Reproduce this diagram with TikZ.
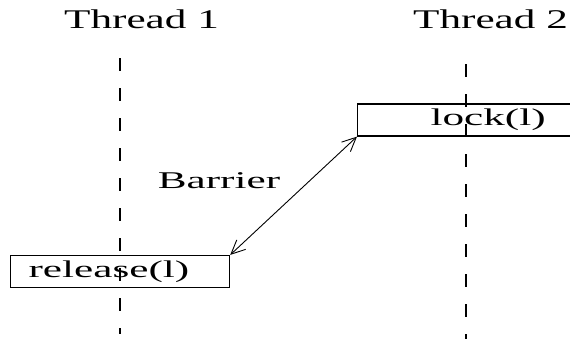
\documentclass[tikz,border=0pt]{standalone}
\usepackage{fontspec}
\usepackage{graphicx}
\setmainfont{Liberation Serif}
\usetikzlibrary{arrows.meta}

% text drawn wider than the font, as in the old figure
\newcommand{\wide}[2]{\scalebox{#1}[1]{#2}}

\tikzset{
  lifeline/.style={draw=black,line width=1.4pt,dash pattern=on 13pt off 17pt},
  opbox/.style={draw=black,line width=1.2pt,minimum height=32pt,inner ysep=0pt,
    align=left,anchor=west,font=\fontsize{24}{28}\selectfont},
  title/.style={anchor=base,font=\fontsize{27}{32}\selectfont},
  label/.style={anchor=base,font=\fontsize{24}{28}\selectfont},
  barb/.tip={Straight Barb[length=14pt,width=13pt,line width=0.9pt]}
}

\begin{document}
\begin{tikzpicture}[x=1pt,y=-1pt]
        \useasboundingbox (0,0) rectangle (570,341);
        % the two threads
        \node[title] (th1) at (141.5,28) {\wide{1.6}{Thread 1}};
        \node[title] (th2) at (490.5,28) {\wide{1.6}{Thread 2}};
        \begin{scope}
          \coordinate (l1top) at (120,58);
          \coordinate (l1bot) at (120,334);
          \coordinate (l2top) at (466,64);
          \coordinate (l2bot) at (466,339);
          \path[lifeline] (l1top) -- (l1bot);
          \path[lifeline] (l2top) -- (l2bot);
        \end{scope}
        % operations on each thread
        \begin{scope}[every node/.style={opbox}]
          \node[inner xsep=73pt,text width=115pt] (lock) at (357,120) {\wide{1.8}{lock(l)}};
          \node[inner xsep=18pt,text width=183pt] (rel) at (10,271.5) {\wide{1.8}{release(l)}};
        \end{scope}
        \node[label] (bar) at (219,188) {\wide{1.8}{Barrier}};
        \path (rel.north east) edge[barb-barb,line width=0.9pt] (lock.south west);
      \end{tikzpicture}
\end{document}
